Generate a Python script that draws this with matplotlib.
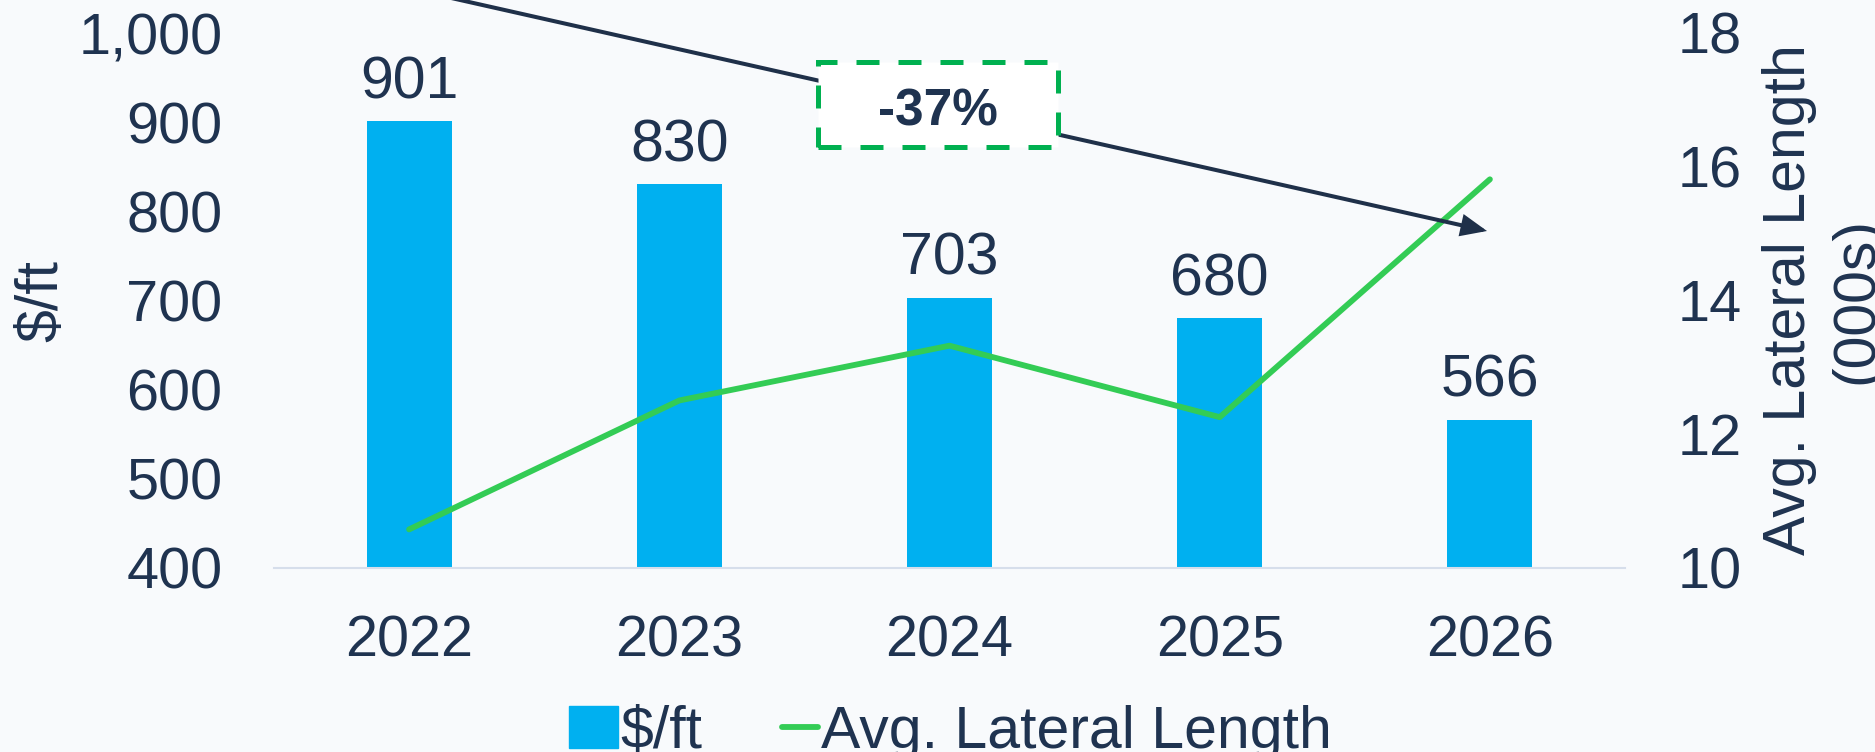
import numpy as np
import matplotlib
matplotlib.use("Agg")
import matplotlib.pyplot as plt
from matplotlib.patches import Rectangle, FancyArrowPatch
from matplotlib.lines import Line2D
from matplotlib.legend_handler import HandlerBase

# ---- data ----
years = ["2022", "2023", "2024", "2025", "2026"]
cost_per_ft = [901, 830, 703, 680, 566]
lateral_length = [10.57, 12.5, 13.32, 12.25, 15.81]
left_ticks = [400, 500, 600, 700, 800, 900, 1000]
right_ticks = [10, 12, 14, 16, 18]
change_label = "-37%"
bar_label_name = "$/ft"
line_label_name = "Avg. Lateral Length"

# ---- styles ----
BG = "#F8FAFC"
BLUE = "#00B0F0"
GREEN = "#33CC55"
BOXGREEN = "#00B050"
TXT = "#1F3350"
NAVY = "#1F3049"
SPINE = "#D6DEEB"
FS_TICK = 41.5
FS = 42.5

plt.rcParams["font.family"] = ["Liberation Sans", "DejaVu Sans"]

W, H = 1875, 752
fig = plt.figure(figsize=(W / 100, H / 100), dpi=100, facecolor=BG)
ax = fig.add_axes([274 / W, 1 - 567.5 / H, (1625 - 274) / W, (567.5 - 33) / H])
ax.set_facecolor("none")

x = np.arange(len(years))
ax.bar(x, cost_per_ft, width=0.314, color=BLUE, zorder=2)
ax.set_xlim(-0.5, len(years) - 0.5)
ax.set_ylim(left_ticks[0], left_ticks[-1])
ax.set_yticks(left_ticks)
ax.set_yticklabels([f"{v:,}" for v in left_ticks])
ax.set_xticks(x)
ax.set_xticklabels(years)
ax.tick_params(axis="both", length=0, labelsize=FS_TICK, labelcolor=TXT)
ax.tick_params(axis="x", pad=34)
ax.tick_params(axis="y", pad=37)
for s in ["top", "right", "left"]:
    ax.spines[s].set_visible(False)
ax.spines["bottom"].set_color(SPINE)
ax.spines["bottom"].set_linewidth(1.5)

for xi, v in zip(x, cost_per_ft):
    ax.annotate(f"{v}", (xi, v), xytext=(0, 16.5), textcoords="offset points",
                ha="center", va="baseline", fontsize=FS, color=TXT)

ax2 = ax.twinx()
ax2.plot(x, lateral_length, color=GREEN, lw=4.2, solid_capstyle="round", zorder=3)
ax2.set_ylim(right_ticks[0], right_ticks[-1])
ax2.set_yticks(right_ticks)
ax2.tick_params(axis="y", length=0, labelsize=FS_TICK, labelcolor=TXT, pad=38)
for s in ["top", "right", "left", "bottom"]:
    ax2.spines[s].set_visible(False)

# axis titles
fig.text(42 / W, 0.6, "$/ft", rotation=90, ha="center", va="center",
         fontsize=FS, color=TXT)
fig.text(1823 / W, 0.601, "Avg. Lateral Length\n(000s)", rotation=90,
         ha="center", va="center", multialignment="center",
         fontsize=FS, color=TXT, linespacing=1.28)

# trend arrow + change box
arrow = FancyArrowPatch((409 / W, 1 + 11.5 / H), (1487 / W, 1 - 231 / H),
                        arrowstyle="-|>,head_length=0.7,head_width=0.3",
                        mutation_scale=20, lw=2.9, color=NAVY,
                        shrinkA=0, shrinkB=0, transform=fig.transFigure,
                        zorder=4, joinstyle="miter")
fig.add_artist(arrow)
box = Rectangle((818 / W, 1 - 147 / H), 240 / W, 85 / H, transform=fig.transFigure,
                facecolor="white", edgecolor=BOXGREEN, lw=3.6,
                linestyle=(0, (4.6, 3.8)), zorder=5)
fig.add_artist(box)
fig.text(938 / W, 1 - 125 / H, change_label, ha="center", va="baseline",
         fontsize=37, fontweight="bold", color=TXT, zorder=6)


# legend
class ShortLine(HandlerBase):
    def create_artists(self, legend, orig_handle, xdescent, ydescent,
                       width, height, fontsize, trans):
        frac = 0.72
        x0 = -xdescent + width * (1 - frac)
        y = height / 2 - ydescent
        ln = Line2D([x0, -xdescent + width], [y, y], color=orig_handle.get_color(),
                    lw=orig_handle.get_linewidth(), solid_capstyle="round")
        ln.set_transform(trans)
        return [ln]


h_bar = Rectangle((0, 0), 1, 1, color=BLUE)
h_line = Line2D([], [], color=GREEN, lw=4.2)
ax2.legend([h_bar, h_line], [bar_label_name, line_label_name], loc="center",
           bbox_to_anchor=(950 / W, 0.026), bbox_transform=fig.transFigure,
           ncol=2, frameon=False, fontsize=FS, labelcolor=TXT,
           handlelength=0.83, handleheight=0.72, handletextpad=0.05,
           columnspacing=1.12, borderpad=0, borderaxespad=0,
           handler_map={Line2D: ShortLine()})

fig.savefig("out.png", dpi=100, facecolor=BG)
